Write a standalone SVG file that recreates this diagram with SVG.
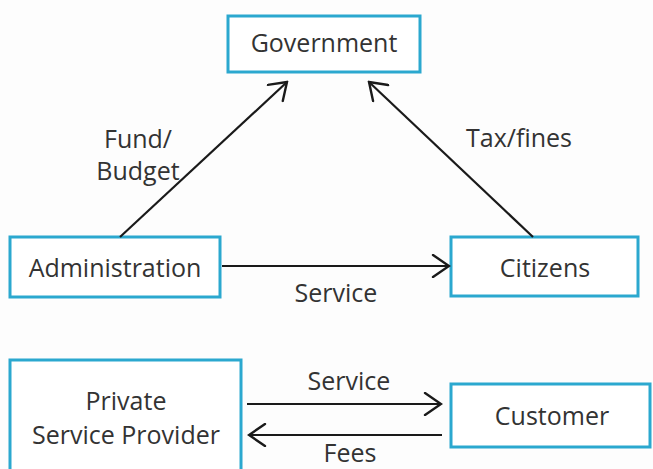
<svg xmlns="http://www.w3.org/2000/svg" width="653" height="469" viewBox="0 0 653 469">
<defs>
<style>
.box{fill:#ffffff;stroke:#2ba8cf;stroke-width:3}
.t{font-family:"Open Sans","Noto Sans",sans-serif;font-size:25px;fill:#333333;text-anchor:middle}
.c{stroke:#1a1a1a;stroke-width:2.2;fill:none}
.ah{stroke:#1a1a1a;stroke-width:2.4;fill:none;stroke-linecap:round;stroke-linejoin:miter}
</style>
<marker id="arr" viewBox="-18 -12 20 24" markerWidth="20" markerHeight="24" refX="0" refY="0" orient="auto" markerUnits="userSpaceOnUse">
<path d="M-16,-11 L0,0 L-16,11" class="ah"/>
</marker>
</defs>
<rect width="653" height="469" fill="#fdfdfd"/>
<g id="government"><rect class="box" x="228" y="16" width="192" height="56"/><text class="t" x="324" y="52">Government</text></g>
<g id="administration"><rect class="box" x="10" y="237" width="210" height="60"/><text class="t" x="115" y="277">Administration</text></g>
<g id="citizens"><rect class="box" x="451" y="237" width="187" height="59"/><text class="t" x="545" y="277">Citizens</text></g>
<g id="provider"><rect class="box" x="10" y="360" width="231" height="120"/><text class="t" x="126" y="410">Private</text><text class="t" x="126" y="444">Service Provider</text></g>
<g id="customer"><rect class="box" x="451" y="384" width="199" height="63"/><text class="t" x="552" y="425">Customer</text></g>
<g id="connectors">
<line class="c" x1="120" y1="237" x2="287" y2="82" marker-end="url(#arr)"/>
<line class="c" x1="533" y1="237" x2="369" y2="82" marker-end="url(#arr)"/>
<line class="c" x1="222" y1="266" x2="449" y2="266" marker-end="url(#arr)"/>
<line class="c" x1="247" y1="404" x2="441" y2="404" marker-end="url(#arr)"/>
<line class="c" x1="442" y1="435" x2="249" y2="435" marker-end="url(#arr)"/>
<text class="t" x="138" y="148">Fund/</text>
<text class="t" x="138" y="180">Budget</text>
<text class="t" x="519" y="147">Tax/fines</text>
<text class="t" x="336" y="302">Service</text>
<text class="t" x="349" y="390">Service</text>
<text class="t" x="350" y="462">Fees</text>
</g>
</svg>
